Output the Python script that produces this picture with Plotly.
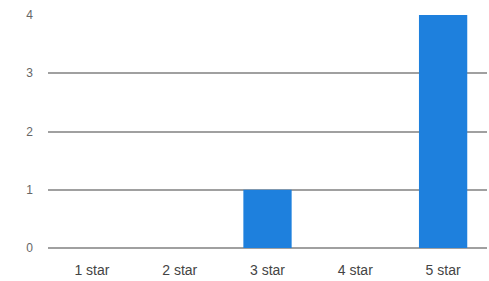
import plotly.graph_objects as go

categories = ["1 star", "2 star", "3 star", "4 star", "5 star"]
counts = [0, 0, 1, 0, 4]
y_ticks = [0, 1, 2, 3, 4]

fig = go.Figure(go.Bar(x=categories, y=counts, marker=dict(color="#1e80dd", line=dict(width=0))))
fig.update_layout(
    width=489, height=281,
    margin=dict(l=48, r=2, t=15, b=33),
    paper_bgcolor="white", plot_bgcolor="white",
    bargap=0.45,
    showlegend=False,
    font=dict(family="Arial, Liberation Sans, sans-serif", color="#444444", size=12),
)
fig.update_yaxes(range=[0, 4], tickvals=y_ticks, showgrid=True, gridcolor="#a0a0a0", gridwidth=1.5,
                 zeroline=True, zerolinecolor="#a0a0a0", zerolinewidth=1.5, showline=False,
                 ticks="", ticklabelstandoff=14, automargin=False,
                 tickfont=dict(size=12, color="#666666"))
fig.update_xaxes(showgrid=False, showline=False, ticks="", ticklabelstandoff=12, automargin=False,
                 tickfont=dict(size=14, color="#444444"))
fig.write_html("out.html", config={"displayModeBar": False},
               post_script="document.body.style.margin='0';document.body.style.overflow='hidden';")
